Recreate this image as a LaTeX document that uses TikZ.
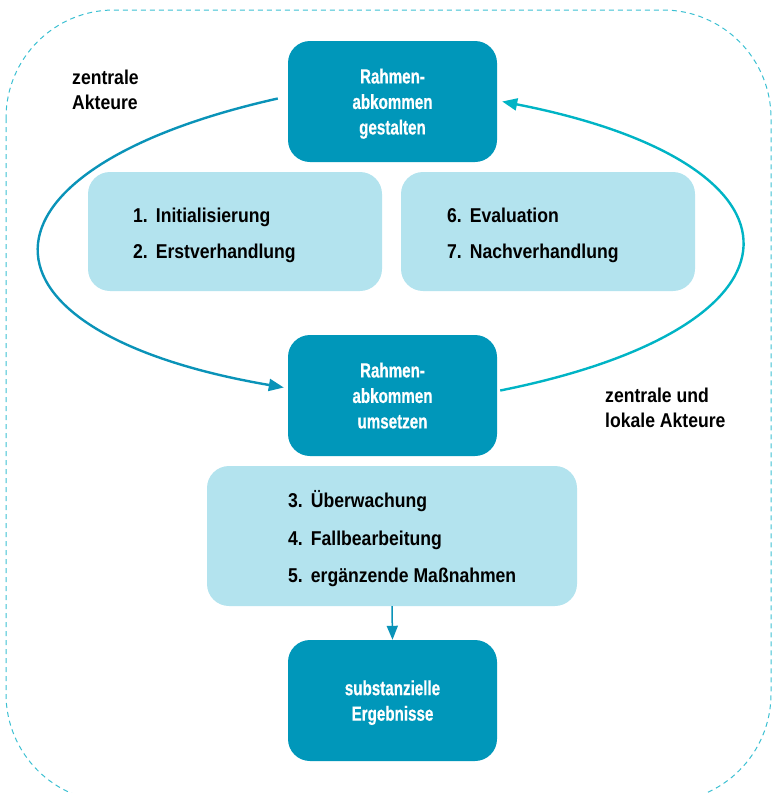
\documentclass[tikz,border=0pt]{standalone}
\usepackage{fontspec}
\setmainfont{Liberation Sans}[FakeStretch=0.88]
\newfontfamily\condfont{Liberation Sans Bold}[FakeStretch=0.74, FakeBold=0.6]
\usetikzlibrary{arrows.meta}
\definecolor{darkbox}{HTML}{0097BA}
\definecolor{lightbox}{HTML}{B3E3EE}
\definecolor{arcleft}{HTML}{0A93B8}
\definecolor{arcright}{HTML}{00B4C5}
\definecolor{borderc}{HTML}{3CC0D2}
\tikzset{
  dbox/.style={fill=darkbox, rounded corners=22pt, text=white, align=center, inner sep=0pt,
    minimum width=209pt, minimum height=121pt, text depth=0pt,
    font=\condfont\fontsize{20.5}{25.5}\selectfont},
  lbox/.style={fill=lightbox, rounded corners=22pt, inner sep=0pt},
  itemtext/.style={anchor=base west, inner sep=0pt, font=\bfseries\fontsize{20}{24}\selectfont},
  lbl/.style={anchor=base west, inner sep=0pt, align=left, font=\bfseries\fontsize{20}{24.5}\selectfont},
  arcl/.style={draw=arcleft, line width=2.4pt, -{Triangle[length=15pt,width=12pt]}},
  arcr/.style={draw=arcright, line width=2.4pt, -{Triangle[length=15pt,width=12pt]}},
  downarr/.style={draw=arcleft, line width=1.5pt, -{Triangle[length=14pt,width=11pt]}},
  border/.style={draw=borderc, line width=1pt, dash pattern=on 5pt off 4pt}
}
\begin{document}
\begin{tikzpicture}[x=1pt,y=-1pt]
\useasboundingbox (0,0) rectangle (773,793);
\begin{scope}
\clip (0,0) rectangle (773,793);
\draw[border, rounded corners=108pt] (6,10) rectangle (771,802);
\end{scope}

% dark boxes
\node[dbox] (top) at (392.5,101.5) {Rahmen-\\abkommen\\gestalten};
\node[dbox] (mid) at (392.5,395.5) {Rahmen-\\abkommen\\umsetzen};
\node[dbox] (res) at (392.5,700.5) {substanzielle\\Ergebnisse};

% light boxes
\node[lbox, minimum width=294pt, minimum height=119pt] (lleft) at (235,231.5) {};
\node[lbox, minimum width=294pt, minimum height=119pt] (lright) at (548,231.5) {};
\node[lbox, minimum width=370pt, minimum height=140pt] (llow) at (392,536) {};

% items
\node[itemtext] (i1) at (133,222) {1.\hspace{0.4em}Initialisierung};
\node[itemtext] (i2) at (133,258) {2.\hspace{0.4em}Erstverhandlung};
\node[itemtext] (i6) at (447,222) {6.\hspace{0.4em}Evaluation};
\node[itemtext] (i7) at (447,258) {7.\hspace{0.4em}Nachverhandlung};
\node[itemtext] (i3) at (288,507) {3.\hspace{0.4em}Überwachung};
\node[itemtext] (i4) at (288,545) {4.\hspace{0.4em}Fallbearbeitung};
\node[itemtext] (i5) at (288,582) {5.\hspace{0.4em}ergänzende Maßnahmen};

% labels
\node[lbl] (za) at (72,109) {zentrale\\Akteure};
\node[lbl] (zl) at (605,427) {zentrale und\\lokale Akteure};

% connectors
\draw[arcl] ([xshift=-10pt,yshift=3pt]top.west) .. controls (-41,170) and (-41,332) .. ([xshift=-4pt,yshift=8pt]mid.west);
\draw[arcr] ([xshift=3pt,yshift=5pt]mid.east) .. controls (822,326) and (822,164) .. ([xshift=5pt]top.east);
\draw[downarr] (llow.south) -- (res.north);
\end{tikzpicture}
\end{document}
